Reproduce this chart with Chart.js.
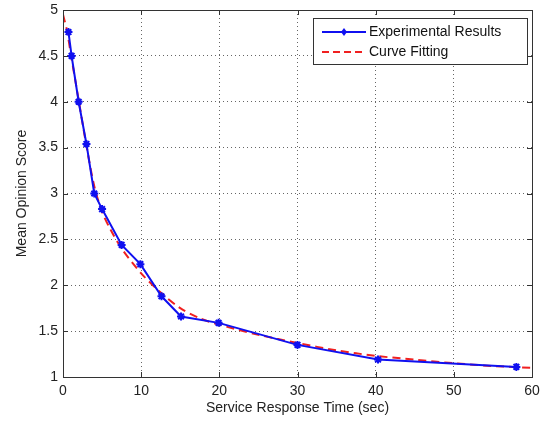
<!DOCTYPE html>
<html>
<head>
<meta charset="utf-8">
<script src="https://cdn.jsdelivr.net/npm/chart.js@4"></script>
<style>
  body { margin: 0; background: #fff; }
  #wrap { width: 542px; height: 423px; }
</style>
</head>
<body>
<div id="wrap"><canvas id="mosChart" width="542" height="423"></canvas></div>
<script>
// 実験結果（読み取り値）
const expX = [0.7, 1.1, 2.0, 3.0, 4.0, 5.0, 7.5, 9.9, 12.6, 15.1, 19.9, 30.0, 40.3, 58.0];
const expY = [4.76, 4.50, 4.00, 3.54, 3.00, 2.83, 2.44, 2.23, 1.88, 1.66, 1.59, 1.35, 1.19, 1.11];

// 近似曲線（読み取り値）
const fitX = [0, 0.5, 1, 2, 3, 4, 5, 6, 7.5, 10, 12.5, 15, 17.5, 20, 25, 30, 35, 40, 45, 50, 55, 60];
const fitY = [4.95, 4.78, 4.52, 4.02, 3.52, 3.08, 2.80, 2.62, 2.40, 2.13, 1.92, 1.75, 1.64, 1.57, 1.46, 1.37, 1.29, 1.23, 1.19, 1.15, 1.12, 1.10];

const xTicks = [0, 10, 20, 30, 40, 50, 60];
const yTicks = [1, 1.5, 2, 2.5, 3, 3.5, 4, 4.5, 5];

const legendItems = ['Experimental Results', 'Curve Fitting'];
const blue = '#1010f0';
const red = '#f02020';
const fontFamily = '"Liberation Sans", Arial, sans-serif';

function toPoints(xs, ys) {
    return xs.map((x, i) => ({ x: x, y: ys[i] }));
}

// 枠線・内向き目盛・凡例
const framePlugin = {
    id: 'frame',
    afterDraw(chart) {
        const ctx = chart.ctx;
        const a = chart.chartArea;
        const xs = chart.scales.x;
        const ys = chart.scales.y;
        ctx.save();
        ctx.strokeStyle = '#333';
        ctx.lineWidth = 1;
        ctx.strokeRect(a.left + 0.5, a.top + 0.5, a.right - a.left, a.bottom - a.top);
        ctx.beginPath();
        xTicks.forEach(t => {
            const px = Math.round(xs.getPixelForValue(t)) + 0.5;
            ctx.moveTo(px, a.bottom); ctx.lineTo(px, a.bottom - 5);
            ctx.moveTo(px, a.top); ctx.lineTo(px, a.top + 5);
        });
        yTicks.forEach(t => {
            const py = Math.round(ys.getPixelForValue(t)) + 0.5;
            ctx.moveTo(a.left, py); ctx.lineTo(a.left + 5, py);
            ctx.moveTo(a.right, py); ctx.lineTo(a.right - 5, py);
        });
        ctx.stroke();

        // 凡例
        const bx = 313, by = 18, bw = 214, bh = 46;
        ctx.fillStyle = '#fff';
        ctx.fillRect(bx, by, bw, bh);
        ctx.strokeStyle = '#333';
        ctx.strokeRect(bx + 0.5, by + 0.5, bw, bh);
        ctx.font = '14px ' + fontFamily;
        ctx.textBaseline = 'middle';
        // 実験結果
        ctx.strokeStyle = blue;
        ctx.lineWidth = 2;
        ctx.beginPath(); ctx.moveTo(322, 32); ctx.lineTo(366, 32); ctx.stroke();
        ctx.fillStyle = blue;
        ctx.beginPath();
        ctx.moveTo(344, 28); ctx.lineTo(347, 32); ctx.lineTo(344, 36); ctx.lineTo(341, 32);
        ctx.closePath(); ctx.fill();
        ctx.fillStyle = '#111';
        ctx.fillText(legendItems[0], 369, 32);
        // 近似曲線
        ctx.strokeStyle = red;
        ctx.setLineDash([7, 4]);
        ctx.beginPath(); ctx.moveTo(322, 52); ctx.lineTo(366, 52); ctx.stroke();
        ctx.setLineDash([]);
        ctx.fillText(legendItems[1], 369, 52);
        ctx.restore();
    }
};

const ctx = document.getElementById('mosChart').getContext('2d');
const chart = new Chart(ctx, {
    type: 'scatter',
    data: {
        datasets: [
            {
                label: legendItems[1],
                data: toPoints(fitX, fitY),
                showLine: true,
                borderColor: red,
                borderWidth: 2,
                borderDash: [8, 5],
                pointRadius: 0,
                tension: 0.3,
                order: 2
            },
            {
                label: legendItems[0],
                data: toPoints(expX, expY),
                showLine: true,
                borderColor: blue,
                backgroundColor: blue,
                borderWidth: 2,
                pointStyle: 'star',
                pointRadius: 4,
                pointBorderWidth: 2,
                tension: 0,
                order: 1
            }
        ]
    },
    options: {
        responsive: false,
        animation: false,
        layout: { padding: { top: 10, right: 10, left: 0, bottom: 0 } },
        plugins: {
            legend: { display: false },
            tooltip: { enabled: false }
        },
        scales: {
            x: {
                type: 'linear',
                min: 0, max: 60,
                afterBuildTicks: s => { s.ticks = xTicks.map(v => ({ value: v })); },
                afterFit: s => { s.height = 46; s.paddingLeft = 0; s.paddingRight = 0; },
                grid: { color: '#666', lineWidth: 1, drawTicks: false },
                border: { display: false, dash: [1, 3] },
                ticks: { color: '#222', padding: 6, font: { size: 14, family: fontFamily },
                         callback: v => String(v) },
                title: { display: true, text: 'Service Response Time (sec)', color: '#222',
                         padding: { top: 0, bottom: 6 }, font: { size: 14, family: fontFamily } }
            },
            y: {
                type: 'linear',
                min: 1, max: 5,
                afterBuildTicks: s => { s.ticks = yTicks.map(v => ({ value: v })); },
                afterFit: s => { s.width = 63; s.paddingTop = 0; s.paddingBottom = 0; },
                grid: { color: '#666', lineWidth: 1, drawTicks: false },
                border: { display: false, dash: [1, 3] },
                ticks: { color: '#222', padding: 5, font: { size: 14, family: fontFamily },
                         callback: v => String(v) },
                title: { display: true, text: 'Mean Opinion Score', color: '#222',
                         padding: { top: 14, bottom: 0 }, font: { size: 14, family: fontFamily } }
            }
        }
    },
    plugins: [framePlugin]
});
</script>
</body>
</html>
